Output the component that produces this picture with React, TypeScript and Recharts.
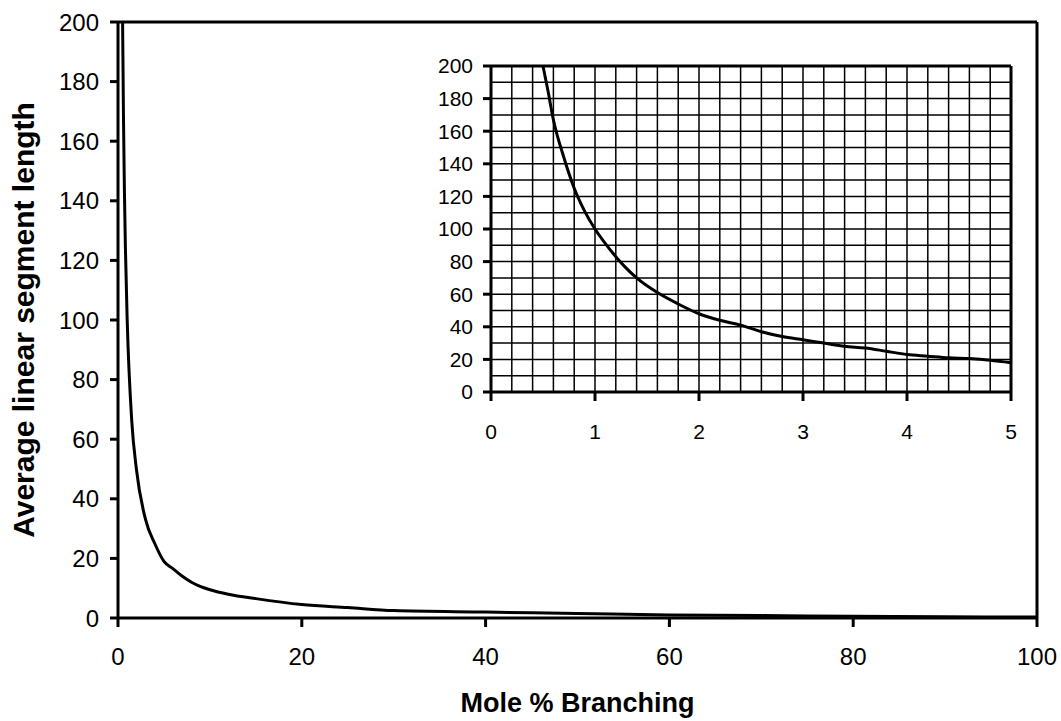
import { LineChart, Line, XAxis, YAxis, ReferenceLine, Label } from "recharts";

// main curve
const mainBranching = [0.5, 0.6, 0.7, 0.8, 1, 1.5, 2, 3, 4, 5, 6, 7, 8, 9, 10, 12, 15, 20, 25, 30, 40, 50, 60, 70, 80, 90, 100];
const mainLength = [200, 167, 143, 125, 100, 66, 50, 33, 25, 19, 16.5, 14, 12, 10.5, 9.5, 8, 6.5, 4.5, 3.5, 2.5, 2, 1.5, 1, 0.8, 0.6, 0.4, 0.3];

// inset curve (0-5 % range)
const insetBranching = [0.5, 0.55, 0.6, 0.7, 0.8, 0.9, 1, 1.1, 1.2, 1.3, 1.4, 1.6, 1.8, 2, 2.2, 2.4, 2.6, 2.8, 3, 3.2, 3.4, 3.6, 3.8, 4, 4.2, 4.4, 4.6, 4.8, 5];
const insetLength = [200, 184, 167, 144, 125, 111, 100, 91, 83, 76, 70, 61, 54, 48, 44, 41, 37, 34, 32, 30, 28, 27, 25, 23, 22, 21, 20.5, 19.5, 18];

const mainXTicks = [0, 20, 40, 60, 80, 100];
const mainYTicks = [0, 20, 40, 60, 80, 100, 120, 140, 160, 180, 200];
const insetXTicks = [0, 1, 2, 3, 4, 5];
const insetYTicks = [0, 20, 40, 60, 80, 100, 120, 140, 160, 180, 200];
const insetGridX = [0.2, 0.4, 0.6, 0.8, 1, 1.2, 1.4, 1.6, 1.8, 2, 2.2, 2.4, 2.6, 2.8, 3, 3.2, 3.4, 3.6, 3.8, 4, 4.2, 4.4, 4.6, 4.8];
const insetGridY = [10, 20, 30, 40, 50, 60, 70, 80, 90, 100, 110, 120, 130, 140, 150, 160, 170, 180, 190];

const mainData = mainBranching.map((x, i) => ({ x, y: mainLength[i] }));
const insetData = insetBranching.map((x, i) => ({ x, y: insetLength[i] }));

const FONT = "'Liberation Sans', Arial, Helvetica, sans-serif";
const black = "#000";

export default function App() {
  return (
    <div
      style={{
        position: "absolute",
        left: 0,
        top: 0,
        width: 1061,
        height: 721,
        background: "#fff",
        fontFamily: FONT,
      }}
    >
      <LineChart width={1061} height={721} data={mainData} margin={{ top: 22, right: 24, bottom: 0, left: 0 }}>
        <XAxis
          dataKey="x"
          type="number"
          domain={[0, 100]}
          ticks={mainXTicks}
          height={103}
          tickSize={9}
          tickMargin={21}
          axisLine={{ stroke: black, strokeWidth: 3 }}
          tickLine={{ stroke: black, strokeWidth: 3 }}
          tick={{ fill: black, fontSize: 24, fontFamily: FONT }}
        >
          <Label
            value="Mole % Branching"
            position="insideBottom"
            offset={9}
            style={{ fill: black, fontSize: 27, fontWeight: 700, fontFamily: FONT }}
          />
        </XAxis>
        <YAxis
          type="number"
          domain={[0, 200]}
          ticks={mainYTicks}
          allowDataOverflow
          width={118}
          tickSize={8}
          tickMargin={11}
          axisLine={{ stroke: black, strokeWidth: 3 }}
          tickLine={{ stroke: black, strokeWidth: 3 }}
          tick={{ fill: black, fontSize: 24, fontFamily: FONT }}
        >
          <Label
            value="Average linear segment length"
            angle={-90}
            position="center"
            dx={-36}
            style={{ fill: black, fontSize: 30, fontWeight: 700, fontFamily: FONT }}
          />
        </YAxis>
        <ReferenceLine y={200} stroke={black} strokeWidth={3} />
        <ReferenceLine x={100} stroke={black} strokeWidth={3} />
        <Line
          dataKey="y"
          type="monotone"
          stroke={black}
          strokeWidth={3}
          dot={false}
          isAnimationActive={false}
        />
      </LineChart>

      <div style={{ position: "absolute", left: 420, top: 40 }}>
        <LineChart width={600} height={420} data={insetData} margin={{ top: 26, right: 9, bottom: 0, left: 0 }}>
          <XAxis
            dataKey="x"
            type="number"
            domain={[0, 5]}
            ticks={insetXTicks}
            height={68}
            tickSize={9}
            tickMargin={23}
            axisLine={{ stroke: black, strokeWidth: 3 }}
            tickLine={{ stroke: black, strokeWidth: 3 }}
            tick={{ fill: black, fontSize: 21, fontFamily: FONT }}
          />
          <YAxis
            type="number"
            domain={[0, 200]}
            ticks={insetYTicks}
            allowDataOverflow
            width={71}
            tickSize={8}
            tickMargin={10}
            axisLine={{ stroke: black, strokeWidth: 3 }}
            tickLine={{ stroke: black, strokeWidth: 3 }}
            tick={{ fill: black, fontSize: 21, fontFamily: FONT }}
          />
          {insetGridX.map((v) => (
            <ReferenceLine key={`gx${v}`} x={v} stroke={black} strokeWidth={1.5} />
          ))}
          {insetGridY.map((v) => (
            <ReferenceLine key={`gy${v}`} y={v} stroke={black} strokeWidth={1.5} />
          ))}
          <ReferenceLine y={200} stroke={black} strokeWidth={3} />
          <ReferenceLine x={5} stroke={black} strokeWidth={3} />
          <Line
            dataKey="y"
            type="monotone"
            stroke={black}
            strokeWidth={3}
            dot={false}
            isAnimationActive={false}
          />
        </LineChart>
      </div>
    </div>
  );
}
